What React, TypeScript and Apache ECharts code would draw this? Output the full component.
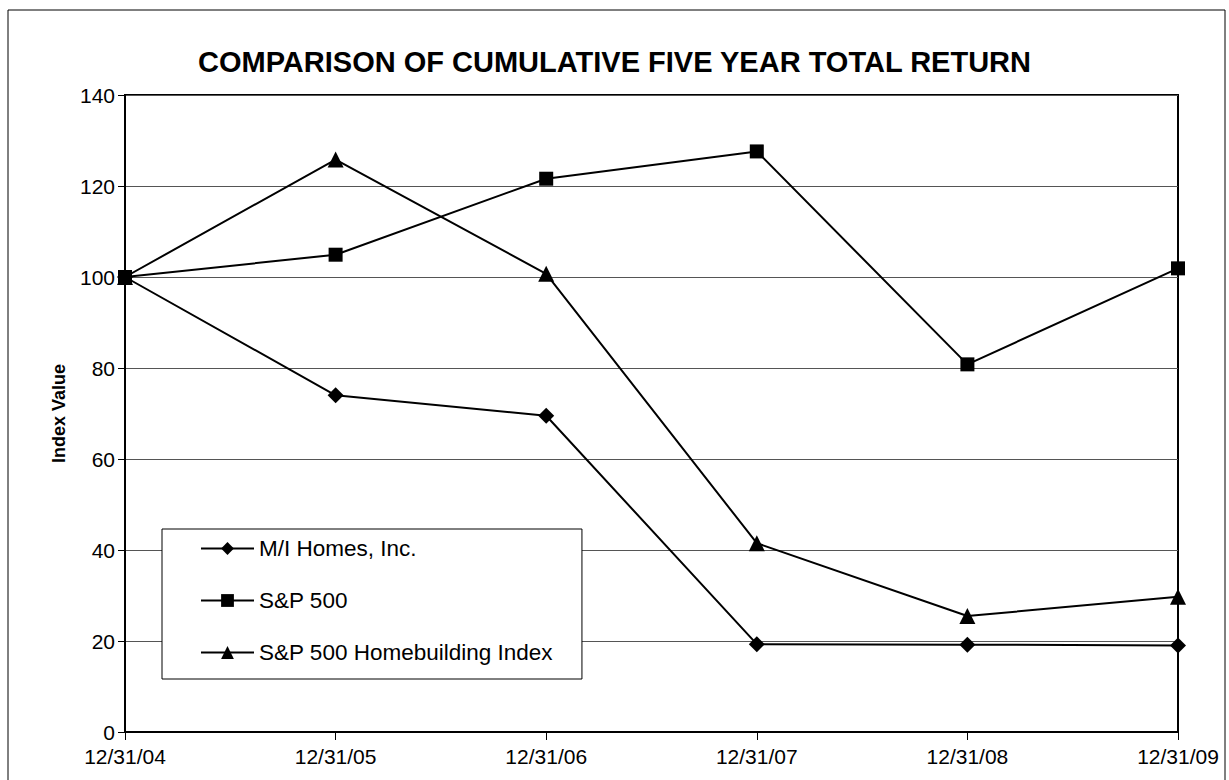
import React, { useEffect, useRef } from "react";
import * as echarts from "echarts";

const categories = ["12/31/04", "12/31/05", "12/31/06", "12/31/07", "12/31/08", "12/31/09"];
const miHomes = [100, 74.0, 69.5, 19.3, 19.2, 19.0];
const sp500 = [100, 104.9, 121.6, 127.6, 80.8, 101.9];
const spHomebuilding = [100, 125.8, 100.7, 41.5, 25.5, 29.7];
const seriesNames = ["M/I Homes, Inc.", "S&P 500", "S&P 500 Homebuilding Index"];
const titleText = "COMPARISON OF CUMULATIVE FIVE YEAR TOTAL RETURN";
const yAxisName = "Index Value";

const FONT = "'Liberation Sans', Arial, Helvetica, sans-serif";

export default function App() {
  const ref = useRef<HTMLDivElement>(null);
  useEffect(() => {
    document.body.style.margin = "0";
    if (!ref.current) return;
    const chart = echarts.init(ref.current, undefined, { renderer: "svg" });
    const lineSeries = (name: string, data: number[], symbol: string, size: number) => ({
      name,
      type: "line",
      data,
      symbol,
      symbolSize: size,
      lineStyle: { color: "#000", width: 2 },
      itemStyle: { color: "#000" },
      z: 5,
    });
    chart.setOption({
      animation: false,
      backgroundColor: "#fff",
      textStyle: { fontFamily: FONT },
      title: {
        text: titleText,
        left: "center",
        top: 42,
        textStyle: { fontFamily: FONT, fontSize: 29, fontWeight: "bold", color: "#000" },
      },
      grid: {
        left: 125,
        right: 51,
        top: 95,
        bottom: 48,
        show: true,
        borderColor: "#000",
        borderWidth: 2,
        backgroundColor: "transparent",
      },
      legend: {
        orient: "vertical",
        left: 162,
        top: 529,
        data: seriesNames,
        backgroundColor: "#fff",
        borderColor: "#000",
        borderWidth: 1,
        borderRadius: 0,
        padding: [8, 29, 15, 38],
        itemGap: 29,
        itemWidth: 53,
        itemHeight: 16,
        textStyle: { fontFamily: FONT, fontSize: 22.5, color: "#000" },
        z: 10,
      },
      xAxis: {
        type: "category",
        data: categories,
        boundaryGap: false,
        axisLine: { lineStyle: { color: "#000", width: 2 } },
        axisTick: { show: true, inside: false, length: 8, lineStyle: { color: "#000", width: 1 } },
        axisLabel: { color: "#000", fontSize: 21, fontFamily: FONT, margin: 14, interval: 0 },
        splitLine: { show: false },
      },
      yAxis: {
        type: "value",
        min: 0,
        max: 140,
        interval: 20,
        name: yAxisName,
        nameLocation: "middle",
        nameGap: 57,
        nameTextStyle: { fontFamily: FONT, fontSize: 18, fontWeight: "bold", color: "#000" },
        axisLine: { show: true, lineStyle: { color: "#000", width: 2 } },
        axisTick: { show: true, inside: false, length: 7, lineStyle: { color: "#000", width: 1 } },
        axisLabel: { color: "#000", fontSize: 21, fontFamily: FONT, margin: 10 },
        splitLine: { show: true, lineStyle: { color: "#555", width: 1 } },
      },
      graphic: [
        {
          type: "rect",
          shape: { x: 8, y: 10, width: 1217, height: 790 },
          style: { fill: "none", stroke: "#000", lineWidth: 1 },
          silent: true,
          z: -1,
        },
      ],
      series: [
        lineSeries(seriesNames[0], miHomes, "diamond", 16),
        lineSeries(seriesNames[1], sp500, "rect", 14),
        lineSeries(seriesNames[2], spHomebuilding, "triangle", 16),
      ],
    });
    return () => chart.dispose();
  }, []);
  return <div ref={ref} style={{ width: 1229, height: 780 }} />;
}
